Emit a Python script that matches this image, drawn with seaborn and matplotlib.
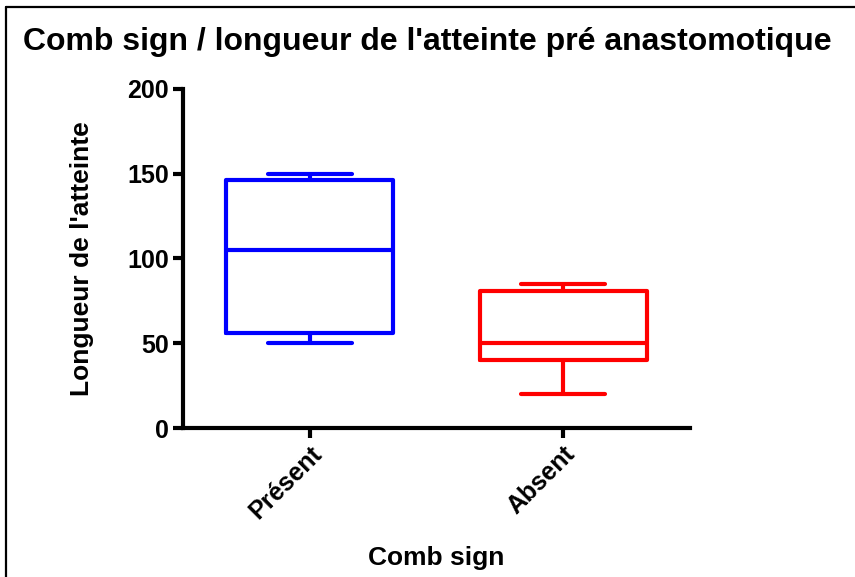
import pandas as pd
import matplotlib
matplotlib.use("Agg")
import matplotlib.pyplot as plt
from matplotlib.lines import Line2D
import seaborn as sns

# summary points (min, Q1, median, Q3, max)
categories = ["Présent", "Absent"]
present_values = [50, 56, 105, 146, 150]
absent_values = [20, 40, 50, 81, 85]
colors = ["#0000ff", "#ff0000"]
y_ticks = [0, 50, 100, 150, 200]


def main():
    df = pd.DataFrame({
        "comb": [categories[0]] * len(present_values) + [categories[1]] * len(absent_values),
        "longueur": present_values + absent_values,
    })

    sns.set_style("ticks")
    plt.rcParams['font.family'] = ['Liberation Sans', 'DejaVu Sans']
    plt.rcParams['font.weight'] = 'bold'
    plt.rcParams['text.color'] = 'black'
    plt.rcParams['axes.labelcolor'] = 'black'
    plt.rcParams['xtick.color'] = 'black'
    plt.rcParams['ytick.color'] = 'black'

    fig = plt.figure(figsize=(8.55, 5.77), dpi=100)
    ax = fig.add_axes([0.214, 0.258, 0.593, 0.588])

    sns.boxplot(data=df, x="comb", y="longueur", hue="comb", order=categories,
                hue_order=categories, palette=colors, fill=False, width=0.66,
                whis=(0, 100), linewidth=3, legend=False, ax=ax)

    ax.set_xlim(-0.5, 1.5)
    ax.set_ylim(0, 200)
    ax.set_yticks(y_ticks)
    ax.set_yticklabels([str(t) for t in y_ticks], fontsize=18, fontweight='bold')
    ax.set_xticks([0, 1])
    ax.set_xticklabels(categories, fontsize=18, fontweight='bold',
                       rotation=45, ha='right', rotation_mode='anchor')
    ax.tick_params(axis='both', width=3, length=7, color='black', pad=3,
                   labelcolor='black')

    sns.despine(ax=ax)
    for side in ['left', 'bottom']:
        ax.spines[side].set_linewidth(3)
        ax.spines[side].set_color('black')

    ax.set_xlabel("Comb sign", fontsize=19, fontweight='bold', labelpad=16)
    ax.set_ylabel("Longueur de l'atteinte", fontsize=19, fontweight='bold', labelpad=24)
    fig.text(0.500, 0.928, "Comb sign / longueur de l'atteinte pré anastomotique",
             ha='center', va='center', fontsize=23, fontweight='bold')

    # frame lines on top and left like the original export
    fig.add_artist(Line2D([0.007, 1.0], [0.988, 0.988], color='black', lw=1.6,
                          transform=fig.transFigure))
    fig.add_artist(Line2D([0.007, 0.007], [0.0, 0.988], color='black', lw=1.6,
                          transform=fig.transFigure))

    fig.savefig("out.png", dpi=100)


if __name__ == "__main__":
    main()
